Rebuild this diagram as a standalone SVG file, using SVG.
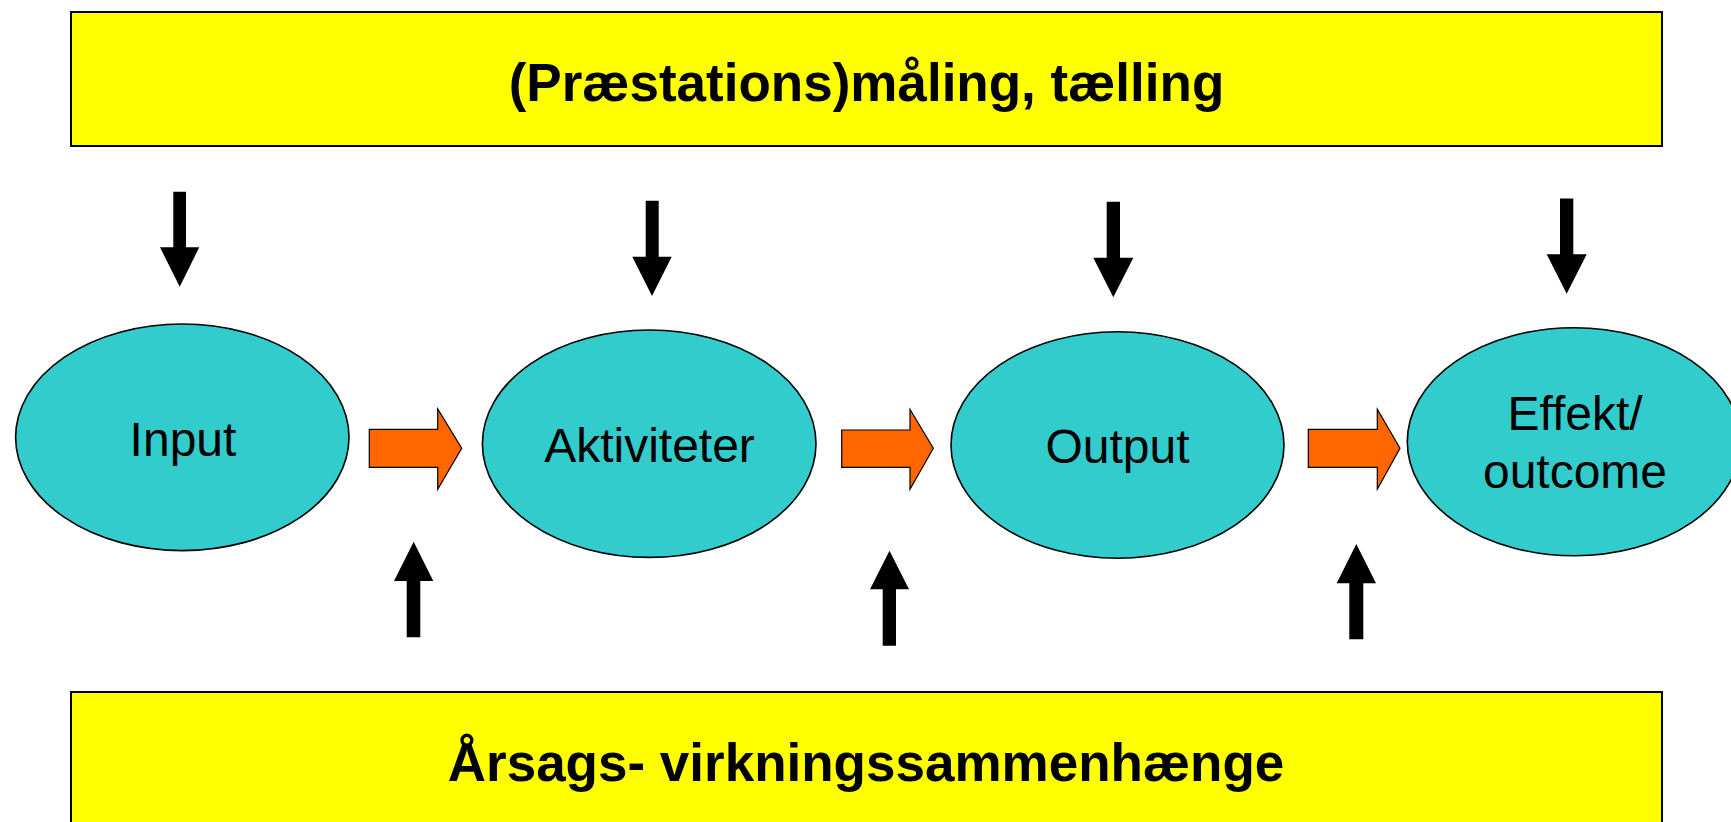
<svg xmlns="http://www.w3.org/2000/svg" width="1731" height="822" viewBox="0 0 1731 822">
<style>
.box{fill:#FFFF00;stroke:#000;stroke-width:2}
.oval{fill:#33CCCC;stroke:#000;stroke-width:1.6}
.blk{fill:#000;stroke:none}
.org{fill:#FF6600;stroke:#000;stroke-width:1.2;stroke-linejoin:miter}
.big{font-family:"Liberation Sans",Arial,sans-serif;font-weight:bold;font-size:53px;fill:#000;text-anchor:middle}
.lbl{font-family:"Liberation Sans",Arial,sans-serif;font-size:48px;fill:#000;text-anchor:middle}
</style>
<rect width="1731" height="822" fill="#fff"/>
<g id="top-box">
<rect class="box" x="71" y="12" width="1591" height="134"/>
<text class="big" x="866.5" y="101">(Præstations)måling, tælling</text>
</g>
<g id="bottom-box">
<rect class="box" x="71" y="692" width="1591" height="200"/>
<text class="big" x="866" y="781">Årsags- virkningssammenhænge</text>
</g>
<g id="input">
<ellipse class="oval" cx="182.3" cy="437.3" rx="166.7" ry="113.3"/>
<text class="lbl" x="183" y="456">Input</text>
</g>
<g id="aktiviteter">
<ellipse class="oval" cx="649.2" cy="443.7" rx="166.8" ry="113.7"/>
<text class="lbl" x="649.5" y="461.7">Aktiviteter</text>
</g>
<g id="output">
<ellipse class="oval" cx="1117.5" cy="445" rx="166.5" ry="113.3"/>
<text class="lbl" x="1117.5" y="462.7">Output</text>
</g>
<g id="effekt">
<ellipse class="oval" cx="1574" cy="441.7" rx="166.7" ry="114"/>
<text class="lbl" x="1575" y="430">Effekt/</text>
<text class="lbl" x="1575" y="488.3">outcome</text>
</g>
<g id="connectors">
<polygon class="blk" points="173.3,191.7 186,191.7 186,247.3 199.3,247.3 179.7,286.7 160,247.3 173.3,247.3"/>
<polygon class="blk" points="645.7,200.7 658.7,200.7 658.7,256.7 671.7,256.7 652,296 632.3,256.7 645.7,256.7"/>
<polygon class="blk" points="1106.7,201.7 1120,201.7 1120,257.7 1133.3,257.7 1113.3,297.3 1093.3,257.7 1106.7,257.7"/>
<polygon class="blk" points="1560,198.5 1573.3,198.5 1573.3,254.2 1586.7,254.2 1566.7,293.7 1546.7,254.2 1560,254.2"/>
<polygon class="blk" points="406.7,637.3 420.3,637.3 420.3,581 433.3,581 413.7,541.7 394,581 406.7,581"/>
<polygon class="blk" points="882.7,645.7 896,645.7 896,589.3 909,589.3 889.5,550.7 870,589.3 882.7,589.3"/>
<polygon class="blk" points="1349.3,639.3 1363.3,639.3 1363.3,583.3 1376,583.3 1356.3,544 1336.7,583.3 1349.3,583.3"/>
<polygon class="org" points="369.3,429.3 437.7,429.3 437.7,409 461.7,448.3 437.7,489.3 437.7,467.3 369.3,467.3"/>
<polygon class="org" points="841.7,430 910,430 910,409.3 933.3,448.3 910,489.3 910,467.3 841.7,467.3"/>
<polygon class="org" points="1308.3,429.3 1377.3,429.3 1377.3,409.3 1400,448.3 1377.3,489.3 1377.3,467.3 1308.3,467.3"/>
</g>
</svg>
